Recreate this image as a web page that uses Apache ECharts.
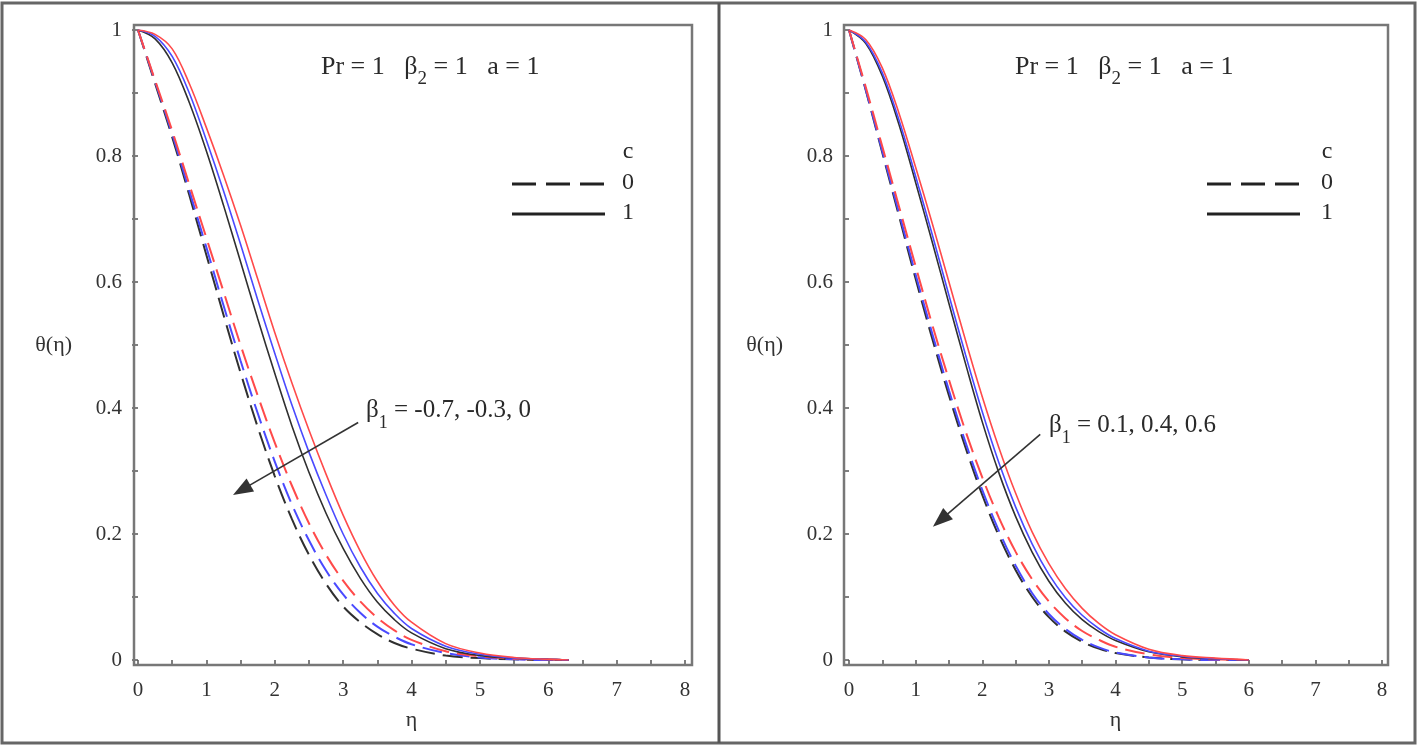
<!DOCTYPE html>
<html>
<head>
<meta charset="utf-8">
<script src="https://cdn.jsdelivr.net/npm/echarts@6/dist/echarts.min.js"></script>
<style>
html,body{margin:0;padding:0;background:#fff;}
#chart{width:1418px;height:749px;}
</style>
</head>
<body>
<div id="chart"></div>
<script>
// ---- data ----
const etaL = [0,0.25,0.5,0.75,1,1.25,1.5,1.75,2,2.25,2.5,2.75,3,3.25,3.5,3.75,4,4.5,5,5.5,6,6.3];
const etaR = [0,0.25,0.5,0.75,1,1.25,1.5,1.75,2,2.25,2.5,2.75,3,3.25,3.5,3.75,4,4.5,5,5.5,6];
const xTicks = [0,1,2,3,4,5,6,7,8];
const yTicks = [0,0.2,0.4,0.6,0.8,1];

// Left panel (beta1 = -0.7 red, -0.3 blue, 0 black)
const L_c0_red   = [1,0.92,0.84,0.755,0.67,0.585,0.5,0.42,0.345,0.277,0.217,0.167,0.126,0.093,0.067,0.047,0.032,0.014,0.006,0.002,0.001,0];
const L_c0_blue  = [1,0.918,0.835,0.745,0.655,0.563,0.475,0.392,0.315,0.247,0.19,0.142,0.104,0.075,0.053,0.037,0.025,0.011,0.004,0.001,0,0];
const L_c0_black = [1,0.915,0.83,0.738,0.643,0.548,0.456,0.37,0.292,0.224,0.167,0.121,0.085,0.06,0.041,0.027,0.018,0.007,0.003,0.001,0,0];
const L_c1_red   = [1,0.993,0.97,0.915,0.845,0.77,0.69,0.605,0.52,0.44,0.365,0.295,0.23,0.173,0.125,0.087,0.06,0.026,0.011,0.004,0.001,0];
const L_c1_blue  = [1,0.99,0.958,0.9,0.825,0.745,0.66,0.572,0.487,0.405,0.33,0.262,0.2,0.148,0.106,0.074,0.05,0.022,0.009,0.003,0.001,0];
const L_c1_black = [1,0.986,0.948,0.885,0.808,0.722,0.632,0.542,0.455,0.372,0.298,0.233,0.177,0.13,0.092,0.064,0.043,0.018,0.007,0.003,0.001,0];

// Right panel (beta1 = 0.1 red, 0.4 blue, 0.6 black)
const R_c0_red   = [1,0.91,0.815,0.72,0.625,0.532,0.445,0.363,0.29,0.226,0.172,0.128,0.093,0.066,0.046,0.032,0.021,0.009,0.003,0.001,0];
const R_c0_blue  = [1,0.906,0.808,0.71,0.612,0.518,0.428,0.345,0.27,0.205,0.15,0.106,0.073,0.049,0.032,0.02,0.012,0.004,0.001,0,0];
const R_c0_black = [1,0.905,0.805,0.705,0.605,0.51,0.42,0.337,0.262,0.197,0.143,0.1,0.068,0.045,0.029,0.018,0.011,0.004,0.001,0,0];
const R_c1_red   = [1,0.985,0.94,0.868,0.782,0.693,0.6,0.507,0.418,0.337,0.265,0.203,0.153,0.113,0.082,0.058,0.04,0.017,0.007,0.003,0];
const R_c1_blue  = [1,0.981,0.932,0.857,0.768,0.675,0.579,0.484,0.394,0.313,0.243,0.184,0.136,0.099,0.071,0.05,0.034,0.014,0.006,0.002,0];
const R_c1_black = [1,0.979,0.927,0.85,0.758,0.663,0.566,0.47,0.378,0.297,0.228,0.171,0.125,0.09,0.064,0.045,0.031,0.013,0.005,0.002,0];

// arrows (data coordinates): tail -> head
const arrowL = [[3.22,0.377],[1.516,0.270]];
const arrowR = [[2.87,0.358],[1.373,0.222]];

// ---- styles ----
const FONT = 'Liberation Serif';
const RED = '#ff4a4a', BLUE = '#4a4aff', BLACK = '#303030';
const DASH = [20,8];

function pts(eta, vals){ return eta.map((x,i)=>[x, vals[i]]); }

function panelSeries(idx, eta, sets, arrow){
  const out = [];
  sets.forEach((s,k)=>{
    const ser = {
      type:'line', xAxisIndex:idx, yAxisIndex:idx,
      data: pts(eta, s.v), smooth:0.35, showSymbol:false, silent:true,
      lineStyle:{color:s.c, width:s.dash?2:1.6, type:s.dash?DASH:'solid'},
      z: 3
    };
    if(k===0){
      ser.markLine = {
        silent:true, symbol:['none','triangle'], symbolSize:[15,20],
        label:{show:false},
        lineStyle:{color:'#333', width:1.6, type:'solid'},
        data:[[{coord:arrow[0]},{coord:arrow[1]}]]
      };
    }
    out.push(ser);
  });
  return out;
}

const series = [].concat(
  panelSeries(0, etaL, [
    {v:L_c0_black,c:BLACK,dash:true},{v:L_c0_blue,c:BLUE,dash:true},{v:L_c0_red,c:RED,dash:true},
    {v:L_c1_black,c:BLACK,dash:false},{v:L_c1_blue,c:BLUE,dash:false},{v:L_c1_red,c:RED,dash:false}
  ], arrowL),
  panelSeries(1, etaR, [
    {v:R_c0_black,c:BLACK,dash:true},{v:R_c0_blue,c:BLUE,dash:true},{v:R_c0_red,c:RED,dash:true},
    {v:R_c1_black,c:BLACK,dash:false},{v:R_c1_blue,c:BLUE,dash:false},{v:R_c1_red,c:RED,dash:false}
  ], arrowR)
);

function fmtY(v){ const r = Math.round(v*10)/10; return yTicks.some(t=>Math.abs(t-r)<1e-9) ? String(r) : ''; }

function xAx(i){
  return {gridIndex:i, type:'value', min:xTicks[0], max:xTicks[xTicks.length-1], interval:1, offset:5,
    axisLine:{show:false}, splitLine:{show:false},
    axisTick:{show:true, inside:false, length:6, lineStyle:{color:'#555', width:1.5}},
    minorTick:{show:true, splitNumber:2, length:6, lineStyle:{color:'#555', width:1.5}},
    axisLabel:{fontFamily:FONT, fontSize:21, color:'#333', margin:15},
    name:'η', nameLocation:'middle', nameGap:44,
    nameTextStyle:{fontFamily:FONT, fontSize:22, color:'#333'}};
}
function yAx(i){
  return {gridIndex:i, type:'value', min:yTicks[0], max:yTicks[yTicks.length-1], interval:0.2, offset:4,
    axisLine:{show:false}, splitLine:{show:false},
    axisTick:{show:true, inside:false, length:6, lineStyle:{color:'#555', width:1.5}},
    minorTick:{show:true, splitNumber:2, length:6, lineStyle:{color:'#555', width:1.5}},
    axisLabel:{fontFamily:FONT, fontSize:21, color:'#333', margin:12, formatter:fmtY},
    name:'θ(η)', nameLocation:'middle', nameGap:62, nameRotate:0,
    nameTextStyle:{fontFamily:FONT, fontSize:22, color:'#333'}};
}

function rich(size){
  return {
    n:{fontFamily:FONT, fontSize:size, color:'#2a2a2a', lineHeight:32},
    s:{fontFamily:FONT, fontSize:Math.round(size*0.72), color:'#2a2a2a', lineHeight:32, verticalAlign:'bottom', padding:[0,0,-6,0]}
  };
}

function txt(x,y,text,size){
  return {type:'text', x:x, y:y, z:10, silent:true,
    style:{text:text, rich:rich(size), fontFamily:FONT, fontSize:size, fill:'#2a2a2a', verticalAlign:'middle', align:'left'}};
}
function ctxt(x,y,text){
  return {type:'text', x:x, y:y, z:10, silent:true,
    style:{text:text, fontFamily:FONT, fontSize:24, fill:'#2a2a2a', verticalAlign:'middle', align:'center'}};
}
function seg(x1,y1,x2,y2,dash){
  return {type:'line', z:10, silent:true, shape:{x1:x1,y1:y1,x2:x2,y2:y2},
    style:{stroke:'#222', lineWidth:3.2, lineDash:dash?[24,10]:null}};
}

const graphic = [
  // outer frame and divider
  {type:'rect', z:0, silent:true, shape:{x:2,y:3,width:1413,height:740}, style:{fill:null, stroke:'#666', lineWidth:3}},
  {type:'line', z:0, silent:true, shape:{x1:719,y1:3,x2:719,y2:743}, style:{stroke:'#555', lineWidth:3}},
  // plot boxes
  {type:'rect', z:1, silent:true, shape:{x:134,y:25,width:558,height:640}, style:{fill:null, stroke:'#777', lineWidth:2.5}},
  {type:'rect', z:1, silent:true, shape:{x:844,y:25,width:544,height:640}, style:{fill:null, stroke:'#777', lineWidth:2.5}},
  // parameter text
  txt(321,67,'{n|Pr = 1   β}{s|2}{n| = 1   a = 1}',26),
  txt(1015,67,'{n|Pr = 1   β}{s|2}{n| = 1   a = 1}',26),
  // beta1 labels
  txt(366,410,'{n|β}{s|1}{n| = -0.7, -0.3, 0}',25),
  txt(1049,425,'{n|β}{s|1}{n| = 0.1, 0.4, 0.6}',25),
  // legends
  ctxt(628,152,'c'), ctxt(628,183,'0'), ctxt(628,213,'1'),
  seg(512,184,605,184,true), seg(512,214,605,214,false),
  ctxt(1327,152,'c'), ctxt(1327,183,'0'), ctxt(1327,213,'1'),
  seg(1207,184,1299,184,true), seg(1207,214,1300,214,false)
];

const chart = echarts.init(document.getElementById('chart'), null, {renderer:'canvas'});
chart.setOption({
  animation:false,
  backgroundColor:'#fff',
  grid:[
    {left:138, top:30, width:547, height:630},
    {left:849, top:30, width:533, height:630}
  ],
  xAxis:[xAx(0), xAx(1)],
  yAxis:[yAx(0), yAx(1)],
  series: series,
  graphic: graphic
});
</script>
</body>
</html>
